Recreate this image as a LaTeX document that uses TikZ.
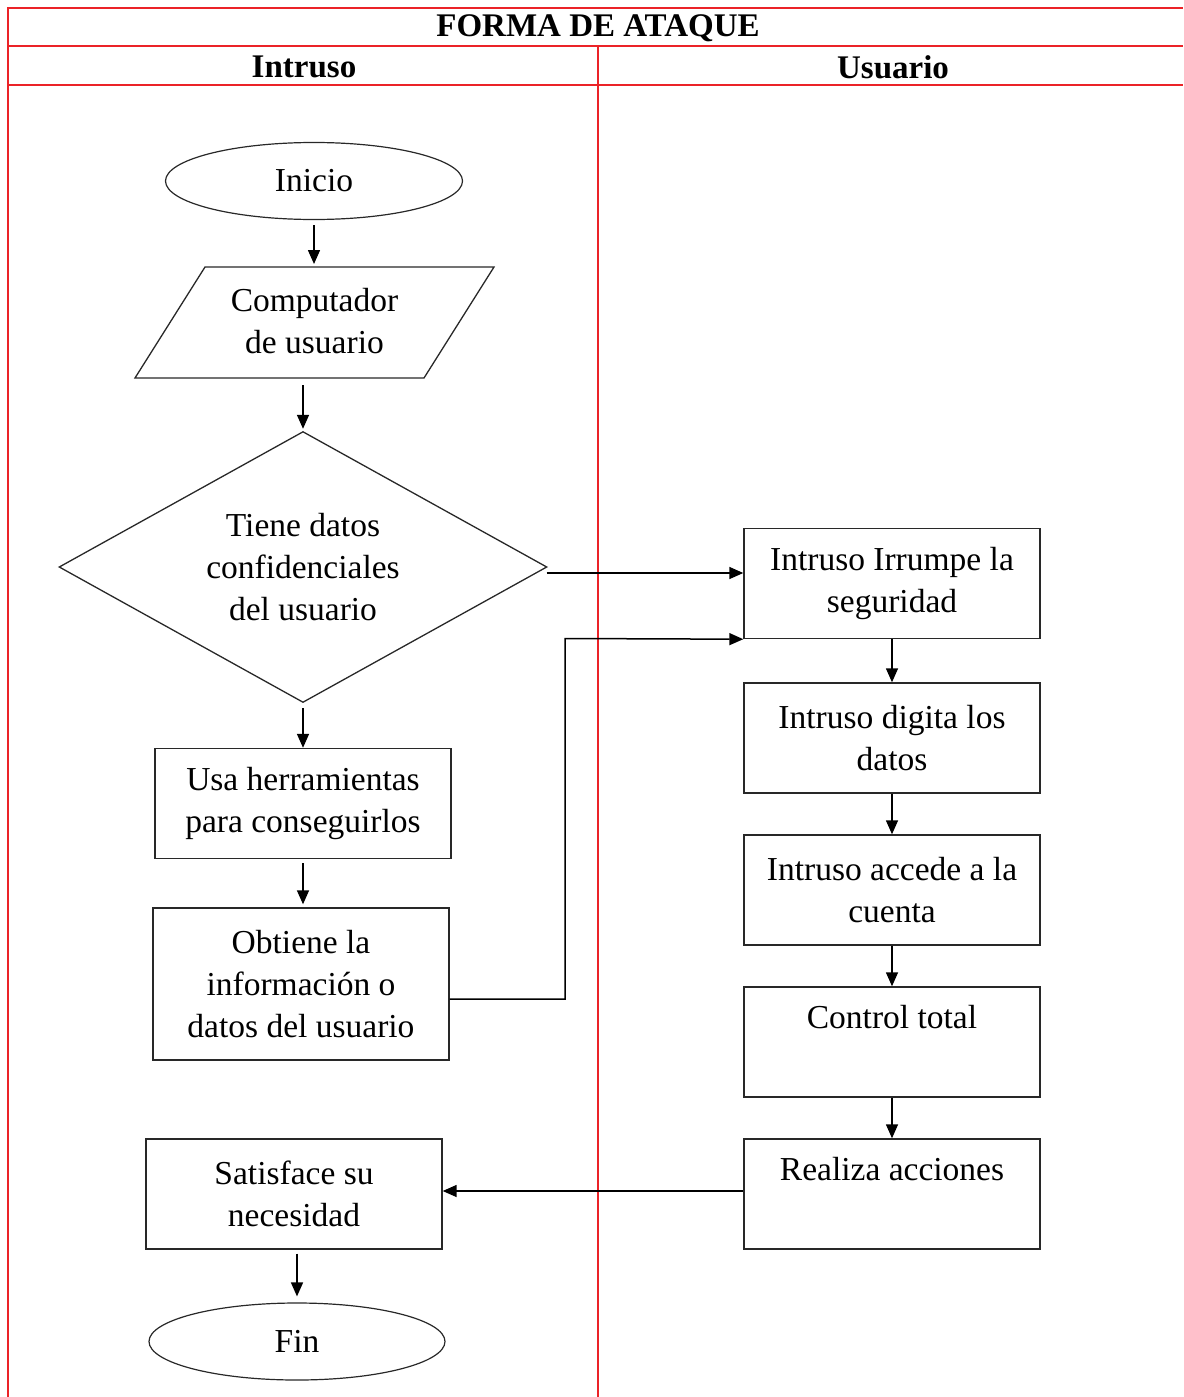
\documentclass[tikz,border=0pt]{standalone}
\usepackage{fontspec}
\setmainfont{Liberation Serif}
\usetikzlibrary{shapes.geometric,arrows.meta,calc}
\definecolor{lanered}{RGB}{235,35,40}
\definecolor{ink}{RGB}{40,40,40}
\begin{document}
\begin{tikzpicture}[x=1pt,y=-1pt,
  every node/.style={font=\fontsize{33.5}{42}\selectfont, inner sep=0pt, align=center},
  frame/.style={draw=lanered, line width=1.5pt},
  hdr/.style={font=\fontsize{33}{38}\selectfont\bfseries},
  procbox/.style={draw=ink, line width=1.4pt, rectangle, minimum width=296pt, minimum height=110pt},
  termbox/.style={draw=ink, line width=1.2pt, ellipse, minimum width=297pt, minimum height=77pt},
  outline/.style={draw=ink, line width=1.3pt, line join=miter},
  arr/.style={draw=black, line width=1.5pt, -{Triangle[length=14pt,width=12pt]}}
]
\useasboundingbox (0,0) rectangle (1183,1397);

% swimlane table
\draw[frame] (8,1397) -- (8,8) -- (1183,8);
\draw[frame] (8,46) -- (1183,46);
\draw[frame] (8,85) -- (1183,85);
\draw[frame] (598,46) -- (598,1397);
\node[hdr] (title) at (598,28) {FORMA DE ATAQUE};
\node[hdr] (laneA) at (304,67) {Intruso};
\node[hdr] (laneB) at (893,67) {Usuario};

% intruder lane
\node[termbox] (inicio) at (314,181) {Inicio};
% input/output parallelogram: the node carries the text and anchors
\node[minimum width=359pt, minimum height=111pt] (comp) at (314.5,321) {Computador\\de usuario};
\draw[outline] (135,378) -- (205,267) -- (494,267) -- (424,378) -- cycle;
% decision diamond: the node carries the text and anchors
\node[minimum width=487pt, minimum height=270pt] (diam) at (303,567) {Tiene datos\\confidenciales\\del usuario};
\draw[outline] (diam.north) -- (diam.east) -- (diam.south) -- (diam.west) -- cycle;
\node[procbox] (usa) at (303,803.5) {Usa herramientas\\para conseguirlos};
\node[procbox, minimum height=152pt] (obt) at (301,984) {Obtiene la\\información o\\datos del usuario};
\node[procbox] (sat) at (294,1194) {Satisface su\\necesidad};
\node[termbox, minimum width=296pt] (fin) at (297,1341.5) {Fin};

% user lane
\node[procbox] (irr) at (892,583.5) {Intruso Irrumpe la\\seguridad};
\node[procbox] (dig) at (892,738) {Intruso digita los\\datos};
\node[procbox] (acc) at (892,890) {Intruso accede a la\\cuenta};
\node[procbox] (ctl) at (892,1042) {Control total\\[9pt]\mbox{}};
\node[procbox] (real) at (892,1194) {Realiza acciones\\[9pt]\mbox{}};

% connectors
\draw[arr, shorten <=5pt, shorten >=3pt] (inicio.south) -- (inicio.south |- 0,267);
\draw[arr, shorten <=7pt, shorten >=3pt] (diam.north |- 0,378) -- (diam.north);
\coordinate (dx) at ([yshift=-6pt]diam.east);
\draw[arr] (dx) -- (dx -| irr.west);
\draw[arr, shorten <=6pt] (diam.south) -- (usa.north);
\draw[arr, shorten <=4pt, shorten >=3pt] (usa.south -| diam.south) -- (obt.north -| diam.south);
\coordinate (ox) at ([yshift=-15pt]obt.east);
\coordinate (kink) at (565,638.5);
\draw[arr] (ox) -| (kink) -- (irr.south west);
\draw[arr] (irr.south) -- (dig.north);
\draw[arr] (dig.south) -- (acc.north);
\draw[arr] (acc.south) -- (ctl.north);
\draw[arr] (ctl.south) -- (real.north);
\coordinate (rx) at ([yshift=3pt]real.west);
\draw[arr] (rx) -- (rx -| sat.east);
\draw[arr, shorten <=4pt, shorten >=6pt] (sat.south -| fin.north) -- (fin.north);
\end{tikzpicture}
\end{document}
